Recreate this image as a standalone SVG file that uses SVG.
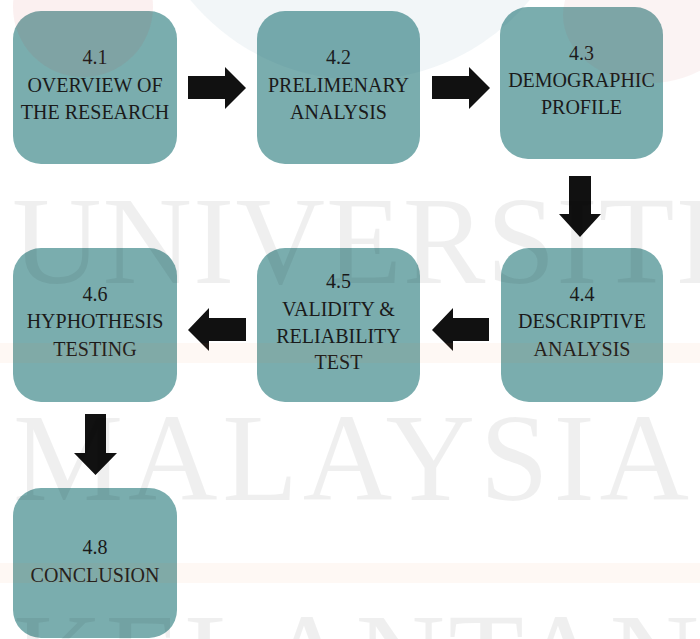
<svg xmlns="http://www.w3.org/2000/svg" width="700" height="639" viewBox="0 0 700 639">
  <style>
    .box { fill: #7aadae; }
    .lbl { font-family: "Liberation Serif", "Times New Roman", serif; font-size: 20px; fill: #1a1a1a; text-anchor: middle; }
    .arrow { fill: #111111; }
    .wm { font-family: "Liberation Serif", "Times New Roman", serif; font-size: 124px; fill: #000000; fill-opacity: 0.062; }
  </style>

  <rect width="700" height="639" fill="#ffffff"/>

  <!-- process steps -->
  <g id="n41">
    <rect class="box" x="13" y="11" width="164" height="153" rx="28"/>
    <text class="lbl" x="95" y="64">4.1</text>
    <text class="lbl" x="95" y="92">OVERVIEW OF</text>
    <text class="lbl" x="95" y="119">THE RESEARCH</text>
  </g>
  <g id="n42">
    <rect class="box" x="257" y="11" width="163" height="153" rx="28"/>
    <text class="lbl" x="338.5" y="64">4.2</text>
    <text class="lbl" x="338.5" y="92">PRELIMENARY</text>
    <text class="lbl" x="338.5" y="119">ANALYSIS</text>
  </g>
  <g id="n43">
    <rect class="box" x="500" y="7" width="163" height="152" rx="28"/>
    <text class="lbl" x="581.5" y="60">4.3</text>
    <text class="lbl" x="581.5" y="87">DEMOGRAPHIC</text>
    <text class="lbl" x="581.5" y="114">PROFILE</text>
  </g>
  <g id="n44">
    <rect class="box" x="501" y="248" width="162" height="154" rx="28"/>
    <text class="lbl" x="582" y="301">4.4</text>
    <text class="lbl" x="582" y="328">DESCRIPTIVE</text>
    <text class="lbl" x="582" y="356">ANALYSIS</text>
  </g>
  <g id="n45">
    <rect class="box" x="257" y="248" width="163" height="154" rx="28"/>
    <text class="lbl" x="338.5" y="288">4.5</text>
    <text class="lbl" x="338.5" y="316">VALIDITY &amp;</text>
    <text class="lbl" x="338.5" y="343">RELIABILITY</text>
    <text class="lbl" x="338.5" y="369">TEST</text>
  </g>
  <g id="n46">
    <rect class="box" x="13" y="248" width="164" height="154" rx="28"/>
    <text class="lbl" x="95" y="301">4.6</text>
    <text class="lbl" x="95" y="328">HYPHOTHESIS</text>
    <text class="lbl" x="95" y="356">TESTING</text>
  </g>
  <g id="n48">
    <rect class="box" x="13" y="488" width="164" height="150" rx="28"/>
    <text class="lbl" x="95" y="554">4.8</text>
    <text class="lbl" x="95" y="582">CONCLUSION</text>
  </g>

  <!-- block arrows between steps -->
  <g id="connectors">
    <polygon class="arrow" points="188,76 225,76 225,67 246,88 225,109 225,99 188,99"/>
    <polygon class="arrow" points="432,76 469,76 469,67 490,88 469,109 469,99 432,99"/>
    <polygon class="arrow" points="569,176 591,176 591,214 601,214 580,237 559,214 569,214"/>
    <polygon class="arrow" points="489,318 453,318 453,308 432,330 453,351 453,341 489,341"/>
    <polygon class="arrow" points="246,318 209,318 209,308 188,330 209,351 209,341 246,341"/>
    <polygon class="arrow" points="85,414 106,414 106,453 117,453 95.5,475 74,453 85,453"/>
  </g>

  <!-- page watermark -->
  <g id="watermark" pointer-events="none">
    <circle cx="83" cy="7" r="70" fill="#c03030" fill-opacity="0.07"/>
    <ellipse cx="650" cy="15" rx="87" ry="68" fill="#c03030" fill-opacity="0.06"/>
    <circle cx="360" cy="-140" r="220" fill="#1f5f8f" fill-opacity="0.06"/>
    <rect x="0" y="343" width="700" height="20" fill="#f08a3c" fill-opacity="0.06"/>
    <rect x="0" y="563" width="700" height="20" fill="#f08a3c" fill-opacity="0.06"/>
    <text class="wm" x="12" y="283" letter-spacing="1">UNIVERSITI</text>
    <text class="wm" x="13" y="500" letter-spacing="4.7">MALAYSIA</text>
    <text class="wm" x="13" y="700" letter-spacing="3">KELANTAN</text>
  </g>
</svg>
